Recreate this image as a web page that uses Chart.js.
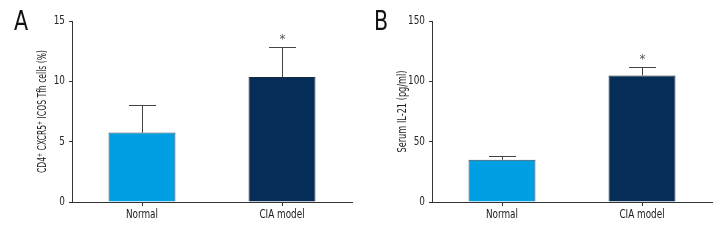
<!DOCTYPE html>
<html><head><meta charset="utf-8">
<script src="https://cdn.jsdelivr.net/npm/chart.js@4/dist/chart.umd.min.js"></script>
<style>
html,body{margin:0;padding:0;background:#fff;}
#wrap{display:flex;width:720px;height:240px;}
.box{position:relative;width:360px;height:240px;}
</style></head>
<body><div id="wrap"><div class="box"><canvas id="cA"></canvas></div><div class="box"><canvas id="cB"></canvas></div></div>
<script>
const categories = ["Normal", "CIA model"];
const tfhValues = [5.75, 10.35];
const tfhErrors = [2.25, 2.5];
const il21Values = [35.0, 104.8];
const il21Errors = [2.8, 6.8];
const tfhTicks = [0, 5, 10, 15];
const il21Ticks = [0, 50, 100, 150];
const significance = ["", "*"];
const barColors = ["#009FE3", "#062D58"];

const FONT = "'DejaVu Sans Condensed', 'Liberation Sans Narrow', sans-serif";
const SQ = 0.82;

function squeezedText(ctx, text, x, y, align, sx) {
  ctx.save();
  ctx.translate(x, y);
  ctx.scale(sx, 1);
  ctx.textAlign = align;
  ctx.fillText(text, 0, 0);
  ctx.restore();
}

const overlay = {
  id: 'overlay',
  afterDraw(chart, args, opts) {
    const ctx = chart.ctx;
    const meta = chart.getDatasetMeta(0);
    const ys = chart.scales.y;
    const xs = chart.scales.x;
    const ds = chart.data.datasets[0];
    ctx.save();
    ctx.strokeStyle = '#444';
    ctx.lineWidth = 1;
    meta.data.forEach((bar, i) => {
      const v = ds.data[i], e = opts.errors[i];
      const x = Math.round(bar.x) + 0.5;
      const yTop = ys.getPixelForValue(v);
      const yErr = Math.round(ys.getPixelForValue(v + e)) + 0.5;
      ctx.beginPath();
      ctx.moveTo(x, yTop);
      ctx.lineTo(x, yErr);
      ctx.moveTo(x - 13.5, yErr);
      ctx.lineTo(x + 13.5, yErr);
      ctx.stroke();
      if (opts.sig[i]) {
        ctx.fillStyle = '#555';
        ctx.font = '13px ' + FONT;
        ctx.textAlign = 'center';
        ctx.textBaseline = 'middle';
        ctx.fillText(opts.sig[i], x, yErr - 8);
      }
    });
    ctx.restore();

    // tick labels (squeezed, condensed look)
    ctx.save();
    ctx.fillStyle = '#222';
    ctx.font = '12px ' + FONT;
    ctx.textBaseline = 'middle';
    ys.ticks.forEach((t, i) => {
      squeezedText(ctx, String(t.value), ys.right - 7, ys.getPixelForTick(i), 'right', SQ);
    });
    xs.ticks.forEach((t, i) => {
      squeezedText(ctx, chart.data.labels[i], xs.getPixelForTick(i), xs.top + 13, 'center', SQ);
    });
    ctx.restore();

    // panel letter
    ctx.save();
    ctx.fillStyle = '#111';
    ctx.font = '27px ' + FONT;
    ctx.textBaseline = 'alphabetic';
    squeezedText(ctx, opts.letter, 14, 30, 'left', 0.85);
    ctx.restore();

    // y title
    ctx.save();
    const ca = chart.chartArea;
    ctx.fillStyle = '#222';
    ctx.font = '13px ' + FONT;
    const w = ctx.measureText(opts.title).width;
    ctx.translate(43, (ca.top + ca.bottom) / 2);
    ctx.rotate(-Math.PI / 2);
    ctx.scale(opts.titleWidth / w, 1);
    ctx.textAlign = 'center';
    ctx.textBaseline = 'middle';
    ctx.fillText(opts.title, 0, 0);
    ctx.restore();
  }
};

function makeChart(id, values, errors, ticks, title, letter, titleWidth) {
  const maxV = ticks[ticks.length - 1];
  const step = ticks[1] - ticks[0];
  return new Chart(document.getElementById(id), {
    type: 'bar',
    data: {
      labels: categories,
      datasets: [{
        data: values,
        backgroundColor: barColors,
        borderColor: ['#34495a', '#1a2a3a'],
        borderWidth: 1,
        barPercentage: 0.478,
        categoryPercentage: 1.0
      }]
    },
    options: {
      responsive: false,
      animation: false,
      devicePixelRatio: 1,
      layout: { padding: { left: 0, right: 8, top: 21, bottom: 0 } },
      plugins: {
        legend: { display: false },
        tooltip: { enabled: false },
        overlay: { errors: errors, sig: significance, title: title, letter: letter, titleWidth: titleWidth }
      },
      scales: {
        x: {
          grid: { display: true, drawOnChartArea: false, drawTicks: true, tickLength: 4, color: '#333', offset: false },
          border: { display: true, color: '#333', width: 1 },
          ticks: { color: 'rgba(0,0,0,0)', font: { family: FONT, size: 11 }, padding: 4 },
          afterFit(s) { s.height = 38; }
        },
        y: {
          min: 0, max: maxV,
          grid: { display: true, drawOnChartArea: false, drawTicks: true, tickLength: 3, color: '#333' },
          border: { display: true, color: '#333', width: 1 },
          ticks: { stepSize: step, color: 'rgba(0,0,0,0)', font: { family: FONT, size: 11 }, padding: 4 },
          afterFit(s) { s.width = 72; }
        }
      }
    },
    plugins: [overlay]
  });
}

const a = document.getElementById('cA'); a.width = 360; a.height = 240;
const b = document.getElementById('cB'); b.width = 360; b.height = 240;
makeChart('cA', tfhValues, tfhErrors, tfhTicks, 'CD4\u207A CXCR5\u207A ICOS Tfh cells (%)', 'A', 123);
makeChart('cB', il21Values, il21Errors, il21Ticks, 'Serum IL-21 (pg/ml)', 'B', 82);
</script></body></html>
